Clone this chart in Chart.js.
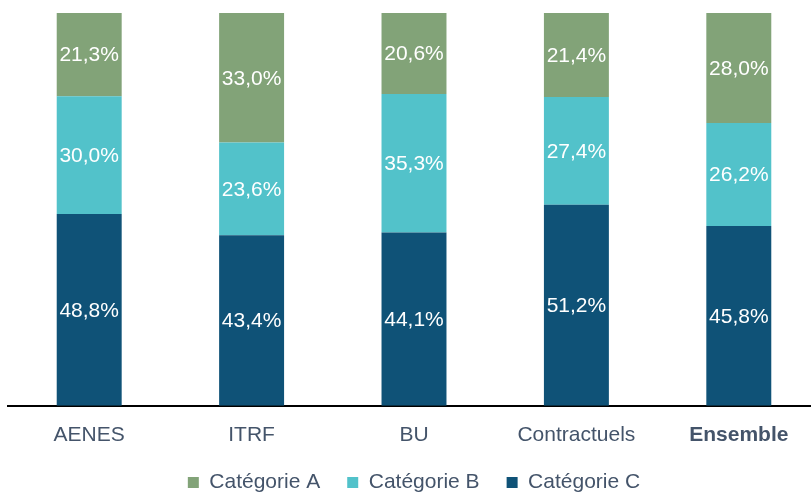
<!DOCTYPE html>
<html><head><meta charset="utf-8">
<script src="https://cdn.jsdelivr.net/npm/chart.js@4"></script>
<style>
html,body{margin:0;padding:0;background:#fff;overflow:hidden;width:811px;height:494px;}
#wrap{position:absolute;left:0;top:0;width:826px;height:494px;}
</style></head>
<body><div id="wrap"><canvas id="c"></canvas></div>
<script>
const categories = ["AENES","ITRF","BU","Contractuels","Ensemble"];
const catA = [21.3,33.0,20.6,21.4,28.0];
const catB = [30.0,23.6,35.3,27.4,26.2];
const catC = [48.8,43.4,44.1,51.2,45.8];
const seriesNames = ["Catégorie A","Catégorie B","Catégorie C"];

const labelPlugin = {
  id:'vals',
  afterDatasetsDraw(chart){
    const ctx = chart.ctx;
    ctx.save();
    ctx.fillStyle='#ffffff';
    ctx.font='21px "Liberation Sans", Arial, sans-serif';
    ctx.textAlign='center';ctx.textBaseline='middle';
    chart.data.datasets.forEach((ds,i)=>{
      const meta = chart.getDatasetMeta(i);
      meta.data.forEach((bar,j)=>{
        const v = ds.data[j];
        const y = (bar.y + bar.base)/2;
        ctx.fillText(v.toFixed(1).replace('.',',')+'%', bar.x, y+1);
      });
    });
    ctx.restore();
  }
};

new Chart(document.getElementById('c'),{
  type:'bar',
  data:{labels:categories,datasets:[
    {label:seriesNames[2],data:catC,backgroundColor:'#0f5277'},
    {label:seriesNames[1],data:catB,backgroundColor:'#52c2ca'},
    {label:seriesNames[0],data:catA,backgroundColor:'#82a378'}
  ]},
  options:{
    responsive:true,maintainAspectRatio:false,animation:false,
    layout:{padding:{left:8,right:6,top:13,bottom:-9}},
    datasets:{bar:{barPercentage:0.4,categoryPercentage:1.0}},
    scales:{
      x:{stacked:true,grid:{display:false},
         border:{display:true,color:'#000',width:2},
         afterFit:(s)=>{ s.height -= 12; },
         ticks:{color:'#44546a',padding:9,
           font:(c)=>({family:'"Liberation Sans", Arial, sans-serif',size:21,weight:c.index===4?'bold':'normal'})}},
      y:{stacked:true,display:false,min:0,max:100}
    },
    plugins:{
      legend:{position:'bottom',reverse:true,
        labels:{boxWidth:11,boxHeight:11,padding:27,color:'#44546a',
          font:{family:'"Liberation Sans", Arial, sans-serif',size:21}}},
      tooltip:{enabled:false}
    }
  },
  plugins:[labelPlugin]
});
</script></body></html>
